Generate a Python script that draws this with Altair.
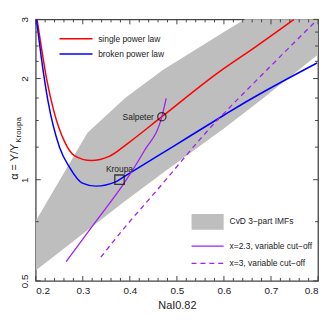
import altair as alt
import pandas as pd

# ---------------- data ----------------
# CvD 3-part IMF region (upper / lower boundary at shared x)
gray_x = [0.2, 0.31, 0.39, 0.47, 0.6, 0.68, 0.8]
gray_upper = [0.754, 1.38, 1.75, 2.12, 2.75, 3.22, 4.1]
gray_lower = [0.537, 0.707, 0.865, 1.047, 1.42, 1.733, 2.36]

# single power law (red)
red_x = [0.2027, 0.2125, 0.223, 0.2385, 0.261, 0.282, 0.318, 0.356, 0.398, 0.468, 0.587, 0.668, 0.749]
red_y = [3.0, 2.45, 2.0, 1.6, 1.3, 1.18, 1.14, 1.173, 1.29, 1.54, 2.08, 2.49, 3.0]

# broken power law (blue)
blue_x = [0.2015, 0.212, 0.226, 0.2505, 0.2716, 0.299, 0.328, 0.37, 0.387, 0.4926, 0.598, 0.633, 0.798]
blue_y = [3.0, 2.3, 1.716, 1.25, 1.09, 0.977, 0.957, 0.985, 1.019, 1.257, 1.55, 1.66, 2.225]

# x=2.3, variable cut-off (purple solid)
ps_x = [0.2646, 0.3259, 0.3874, 0.4295, 0.468, 0.4773]
ps_y = [0.570, 0.745, 0.9745, 1.211, 1.54, 1.747]

# x=3, variable cut-off (purple dashed)
pd_x = [0.3383, 0.391, 0.4505, 0.591, 0.6154, 0.796]
pd_y = [0.588, 0.726, 0.906, 1.53, 1.658, 2.97]

# reference IMFs
ref_names = ["Salpeter", "Kroupa"]
ref_x = [0.468, 0.378]
ref_y = [1.54, 1.0]

# axes
x_major = [0.2, 0.3, 0.4, 0.5, 0.6, 0.7, 0.8]
x_minor = [round(0.2 + 0.02 * i, 2) for i in range(31) if i % 5 != 0]
y_major = [0.5, 1, 2, 3]
y_minor = [0.75, 1.25, 1.5, 1.75, 2.25, 2.5, 2.75]

legend_top = ["single power law", "broken power law"]
legend_bottom = ["CvD 3\u2212part IMFs", "x=2.3, variable cut\u2212off", "x=3, variable cut\u2212off"]
x_title = "NaI0.82"
y_title_main = "\u03b1 = \u03a5/\u03a5"
y_title_sub = "Kroupa"

# ---------------- styling ----------------
W, H = 285, 264
FONT = "Liberation Sans"
AX = "#444444"
RED, BLUE, PURPLE, GRAY = "#ff0000", "#0000ff", "#a020f0", "#bebebe"

xs = alt.Scale(domain=[0.2, 0.8], nice=False, zero=False)
ys = alt.Scale(type="log", domain=[0.5, 3], nice=False, zero=False)

xaxis = alt.Axis(values=x_major, format=".1f", ticks=False, domain=False, grid=False,
                 labelFontSize=10, labelFont=FONT, labelColor="#222", labelPadding=5,
                 title=x_title, titleFont=FONT, titleFontSize=11, titleFontWeight="normal",
                 titleColor="#222", titlePadding=4)
yaxis = alt.Axis(values=y_major, format="~g", ticks=False, domain=False, grid=False,
                 labelFontSize=10, labelFont=FONT, labelColor="#222", labelAngle=270,
                 labelPadding=6, title=None)


def X(f="x"):
    return alt.X(f + ":Q", scale=xs, axis=xaxis)


def Y(f="y"):
    return alt.Y(f + ":Q", scale=ys, axis=yaxis)


gray_df = pd.DataFrame({"x": gray_x, "y": gray_upper, "y2": gray_lower})
area = alt.Chart(gray_df).mark_area(color=GRAY, clip=True, opacity=1).encode(
    x=X(), y=Y(), y2="y2:Q")


def line(xv, yv, color, dash=None, width=1.5):
    df = pd.DataFrame({"x": xv, "y": yv})
    kw = dict(color=color, strokeWidth=width, clip=True, interpolate="monotone")
    if dash:
        kw["strokeDash"] = dash
    return alt.Chart(df).mark_line(**kw).encode(x=X(), y=Y())


red = line(red_x, red_y, RED)
blue = line(blue_x, blue_y, BLUE)
purple = line(ps_x, ps_y, PURPLE, width=1.3)
purple_d = line(pd_x, pd_y, PURPLE, dash=[5, 4], width=1.3)

ref_df = pd.DataFrame({"name": ref_names, "x": ref_x, "y": ref_y})
salp = alt.Chart(ref_df.iloc[[0]]).mark_point(shape="circle", size=70, color="black",
                                               strokeWidth=1.3, filled=False).encode(x=X(), y=Y())
krou = alt.Chart(ref_df.iloc[[1]]).mark_point(shape="square", size=90, color="black",
                                               strokeWidth=1.3, filled=False).encode(x=X(), y=Y())
salp_t = alt.Chart(ref_df.iloc[[0]]).mark_text(align="right", baseline="middle", dx=-8,
                                                fontSize=8.5, font=FONT, color="#222").encode(
    x=X(), y=Y(), text="name:N")
krou_t = alt.Chart(ref_df.iloc[[1]]).mark_text(align="center", baseline="alphabetic", dy=-8,
                                                fontSize=8.5, font=FONT, color="#222").encode(
    x=X(), y=Y(), text="name:N")

# inward ticks on all four sides
def xticks(vals, L):
    df = pd.DataFrame({"x": vals})
    b = alt.Chart(df).mark_rule(color=AX, strokeWidth=1).encode(
        x=X(), y=alt.value(H), y2=alt.value(H - L))
    t = alt.Chart(df).mark_rule(color=AX, strokeWidth=1).encode(
        x=X(), y=alt.value(0), y2=alt.value(L))
    return [b, t]


def yticks(vals, L):
    df = pd.DataFrame({"y": vals})
    l = alt.Chart(df).mark_rule(color=AX, strokeWidth=1).encode(
        y=Y(), x=alt.value(0), x2=alt.value(L))
    r = alt.Chart(df).mark_rule(color=AX, strokeWidth=1).encode(
        y=Y(), x=alt.value(W), x2=alt.value(W - L))
    return [l, r]


ticks = xticks(x_major, 5) + xticks(x_minor, 3) + yticks(y_major, 5) + yticks(y_minor, 3)

# legends
def ltext(label, x, y, size=8.5):
    return alt.Chart(pd.DataFrame({"t": [label]})).mark_text(
        align="left", baseline="middle", fontSize=size, font=FONT, color="#222").encode(
        text="t:N", x=alt.value(x), y=alt.value(y))


def lline(x1, x2, y, color, dash=None, width=1.5):
    kw = dict(color=color, strokeWidth=width)
    if dash:
        kw["strokeDash"] = dash
    return alt.Chart(pd.DataFrame({"a": [0]})).mark_rule(**kw).encode(
        x=alt.value(x1), x2=alt.value(x2), y=alt.value(y))


leg = [
    lline(24, 57.3, 19.6, RED), ltext(legend_top[0], 63, 19.6),
    lline(24, 57.3, 35, BLUE), ltext(legend_top[1], 63, 35),
    alt.Chart(pd.DataFrame({"a": [0]})).mark_rect(color=GRAY).encode(
        x=alt.value(157.3), x2=alt.value(189.7), y=alt.value(196.6), y2=alt.value(212.3)),
    ltext(legend_bottom[0], 195.7, 204),
    lline(157.3, 189.7, 229, PURPLE, width=1.3), ltext(legend_bottom[1], 195.7, 229),
    lline(157.3, 189.7, 246.3, PURPLE, dash=[5, 4], width=1.3), ltext(legend_bottom[2], 195.7, 246.3),
]

ytitle = [
    alt.Chart(pd.DataFrame({"t": [y_title_main]})).mark_text(
        align="left", baseline="alphabetic", angle=270, fontSize=11, font=FONT, color="#222").encode(
        text="t:N", x=alt.value(-17.5), y=alt.value(162)),
    alt.Chart(pd.DataFrame({"t": [y_title_sub]})).mark_text(
        align="left", baseline="alphabetic", angle=270, fontSize=8, font=FONT, color="#222").encode(
        text="t:N", x=alt.value(-14.5), y=alt.value(124.5)),
]

chart = alt.layer(area, red, blue, purple, purple_d, salp, krou, salp_t, krou_t,
                  *ticks, *leg, *ytitle).properties(
    width=W, height=H,
    padding={"left": 28, "top": 10, "right": 4, "bottom": 36},
    autosize=alt.AutoSizeParams(type="none"),
).configure_view(stroke=AX, strokeWidth=1.3)

chart.save("out.html", embed_options={"renderer": "svg", "actions": False})
